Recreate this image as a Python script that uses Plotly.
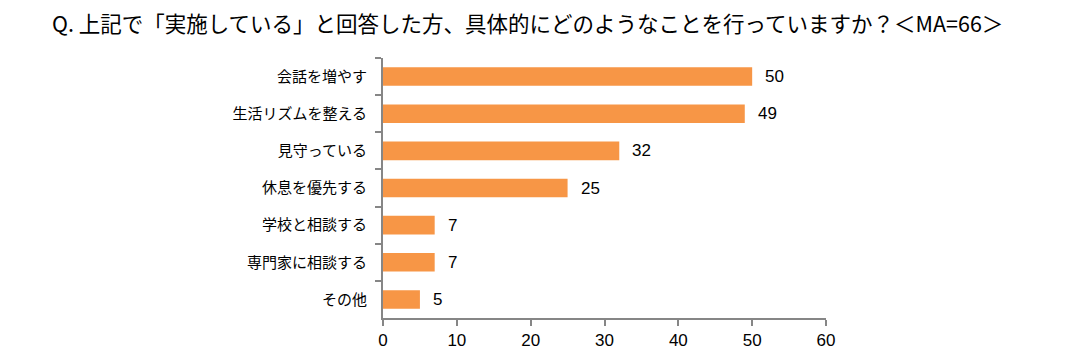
import plotly.graph_objects as go

title_text = "Q. 上記で「実施している」と回答した方、具体的にどのようなことを行っていますか？＜MA=66＞"
categories = ["会話を増やす", "生活リズムを整える", "見守っている", "休息を優先する",
              "学校と相談する", "専門家に相談する", "その他"]
values = [50, 49, 32, 25, 7, 7, 5]
x_ticks = [0, 10, 20, 30, 40, 50, 60]

bar_color = "#F79646"
axis_color = "#868686"
font_jp = "Noto Sans CJK JP, sans-serif"
font_num = "Liberation Sans Narrow, Arial Narrow, Liberation Sans, Arial"

# page body has an 8px default margin, so the figure is sized to compensate
W, H = 1082, 355

fig = go.Figure()
fig.add_trace(go.Bar(
    x=values, y=categories, orientation="h",
    marker=dict(color=bar_color, line=dict(width=0)),
    width=0.5, hoverinfo="skip",
))

for c, v in zip(categories, values):
    fig.add_annotation(x=v, y=c, text=str(v), showarrow=False,
                       xanchor="left", xshift=11,
                       font=dict(family=font_num, size=17, color="#000000"))

fig.update_layout(
    width=W, height=H,
    margin=dict(l=375, r=264, t=50, b=45, autoexpand=False),
    paper_bgcolor="white", plot_bgcolor="white",
    showlegend=False,
    title=dict(text=title_text, x=44 / W, xanchor="left", y=1 - 16 / H, yanchor="middle",
               font=dict(family=font_jp, size=21.5, color="#000000")),
    xaxis=dict(range=[0, 60], tickvals=x_ticks, ticktext=[str(t) for t in x_ticks],
               showgrid=False, zeroline=False, showline=True, linecolor=axis_color, linewidth=2,
               ticks="outside", ticklen=6, tickwidth=2, tickcolor=axis_color,
               tickfont=dict(family=font_num, size=17, color="#000000"),
               automargin=False, fixedrange=True),
    yaxis=dict(autorange="reversed", showgrid=False, zeroline=False,
               showline=True, linecolor=axis_color, linewidth=2,
               ticks="outside", tickson="boundaries", ticklen=6, tickwidth=2, tickcolor=axis_color,
               ticklabelstandoff=11,
               tickfont=dict(family=font_jp, size=15, color="#000000"),
               automargin=False, fixedrange=True),
)

fig.write_html("out.html")
